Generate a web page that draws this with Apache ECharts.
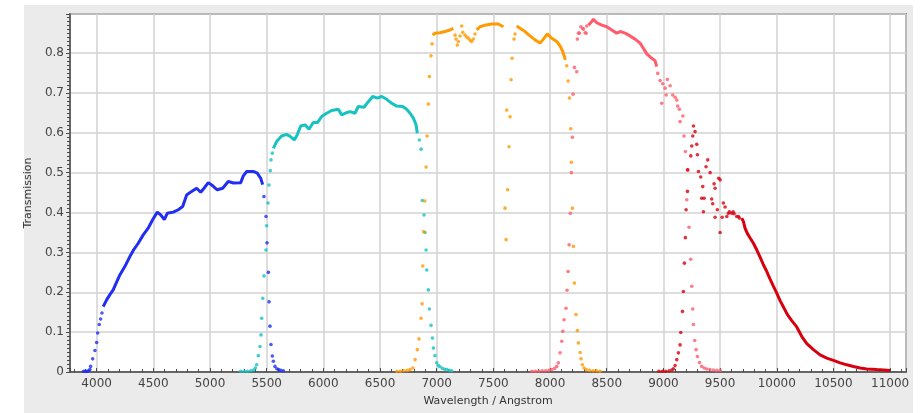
<!DOCTYPE html>
<html>
<head>
<meta charset="utf-8">
<script src="https://cdn.jsdelivr.net/npm/echarts@6/dist/echarts.min.js"></script>
<style>html,body{margin:0;padding:0;background:#fff;}#c{width:924px;height:413px;}</style>
</head>
<body>
<div id="c"></div>
<script>
// ---- data ----
const xAxisTitle = 'Wavelength / Angstrom';
const yAxisTitle = 'Transmission';

const blueCurve = [[4058,0.164],[4088,0.181],[4117,0.194],[4146,0.206],[4175,0.225],[4206,0.244],[4250,0.265],[4294,0.290],[4323,0.305],[4367,0.323],[4411,0.344],[4455,0.361],[4494,0.382],[4535,0.401],[4565,0.394],[4597,0.382],[4623,0.398],[4676,0.401],[4720,0.407],[4759,0.415],[4794,0.444],[4838,0.453],[4882,0.461],[4918,0.451],[4947,0.461],[4985,0.475],[5024,0.467],[5064,0.457],[5112,0.461],[5161,0.478],[5206,0.474],[5271,0.475],[5294,0.492],[5324,0.503],[5382,0.503],[5417,0.499],[5447,0.486],[5465,0.470]];
const blueDots = [[3885,0.002],[3900,0.002],[3915,0.002],[3930,0.003],[3940,0.006],[3947,0.014],[3965,0.033],[3985,0.054],[4000,0.074],[4009,0.098],[4023,0.119],[4035,0.133],[4047,0.148],[5476,0.440],[5494,0.390],[5503,0.324],[5515,0.250],[5521,0.176],[5529,0.115],[5538,0.069],[5550,0.040],[5559,0.027],[5573,0.014],[5590,0.008],[5605,0.006],[5625,0.004],[5647,0.003]];

const cyanCurve = [[5559,0.561],[5588,0.578],[5632,0.592],[5676,0.596],[5712,0.590],[5744,0.582],[5770,0.595],[5800,0.617],[5838,0.620],[5873,0.609],[5911,0.626],[5950,0.626],[5985,0.641],[6029,0.649],[6073,0.656],[6132,0.659],[6162,0.645],[6191,0.649],[6235,0.653],[6279,0.649],[6308,0.666],[6359,0.664],[6397,0.678],[6435,0.691],[6476,0.687],[6515,0.691],[6559,0.684],[6603,0.674],[6647,0.667],[6700,0.666],[6735,0.659],[6765,0.649],[6794,0.637],[6818,0.620],[6829,0.599]];
const cyanDots = [[5270,0.002],[5300,0.002],[5330,0.002],[5360,0.003],[5385,0.005],[5400,0.010],[5412,0.018],[5426,0.041],[5441,0.064],[5450,0.093],[5456,0.135],[5465,0.185],[5476,0.241],[5494,0.306],[5500,0.367],[5512,0.424],[5520,0.469],[5532,0.505],[5538,0.532],[5550,0.549],[6847,0.582],[6862,0.559],[6873,0.430],[6888,0.394],[6897,0.350],[6906,0.306],[6912,0.256],[6926,0.206],[6935,0.158],[6950,0.117],[6962,0.085],[6971,0.060],[6985,0.041],[7000,0.023],[7015,0.016],[7029,0.013],[7050,0.009],[7070,0.007],[7088,0.006],[7110,0.004],[7132,0.003]];

const orangeCurveA = [[6965,0.845],[6985,0.850],[7029,0.851],[7073,0.854],[7118,0.858],[7147,0.862]];
const orangeCurveB = [[7353,0.858],[7382,0.866],[7426,0.870],[7485,0.873],[7544,0.873],[7588,0.866]];
const orangeCurveC = [[7706,0.868],[7735,0.862],[7779,0.854],[7823,0.843],[7868,0.833],[7912,0.825],[7941,0.835],[7976,0.848],[8015,0.837],[8059,0.829],[8088,0.818],[8112,0.804],[8135,0.783]];
const orangeDots = [[6650,0.002],[6680,0.002],[6710,0.003],[6740,0.004],[6765,0.006],[6790,0.010],[6809,0.031],[6829,0.056],[6844,0.083],[6862,0.135],[6871,0.171],[6877,0.266],[6885,0.352],[6894,0.429],[6906,0.514],[6915,0.592],[6926,0.672],[6935,0.741],[6950,0.793],[6959,0.823],[7162,0.845],[7170,0.835],[7182,0.820],[7191,0.829],[7206,0.843],[7221,0.868],[7230,0.852],[7250,0.845],[7265,0.840],[7280,0.837],[7295,0.832],[7309,0.829],[7323,0.835],[7338,0.848],[7603,0.411],[7612,0.332],[7618,0.657],[7626,0.457],[7638,0.565],[7647,0.640],[7656,0.733],[7665,0.787],[7682,0.835],[7691,0.848],[8147,0.768],[8159,0.730],[8171,0.687],[8182,0.610],[8188,0.526],[8197,0.411],[8206,0.315],[8215,0.223],[8229,0.144],[8241,0.104],[8250,0.073],[8265,0.049],[8273,0.033],[8285,0.018],[8300,0.010],[8320,0.006],[8350,0.004],[8380,0.003],[8410,0.003],[8440,0.002]];

const pinkCurve = [[8338,0.870],[8368,0.879],[8382,0.885],[8412,0.876],[8456,0.870],[8500,0.866],[8544,0.858],[8588,0.850],[8618,0.854],[8662,0.850],[8706,0.843],[8750,0.835],[8794,0.825],[8823,0.812],[8853,0.798],[8888,0.789],[8926,0.781],[8941,0.766]];
const pinkDots = [[7840,0.002],[7870,0.002],[7900,0.002],[7930,0.003],[7960,0.003],[7990,0.004],[8015,0.006],[8040,0.009],[8059,0.014],[8073,0.023],[8088,0.048],[8103,0.077],[8112,0.102],[8124,0.131],[8141,0.160],[8150,0.205],[8159,0.252],[8168,0.319],[8179,0.398],[8188,0.500],[8197,0.589],[8203,0.697],[8215,0.764],[8235,0.753],[8241,0.835],[8250,0.850],[8259,0.850],[8271,0.866],[8288,0.862],[8294,0.860],[8309,0.851],[8318,0.850],[8324,0.868],[8950,0.749],[8971,0.731],[8985,0.674],[8994,0.723],[9015,0.712],[9024,0.695],[9035,0.734],[9059,0.718],[9082,0.695],[9103,0.689],[9118,0.682],[9126,0.667],[9141,0.659],[9147,0.628],[9171,0.642],[9182,0.592],[9194,0.553],[9212,0.507],[9206,0.432],[9226,0.363],[9241,0.283],[9250,0.215],[9259,0.158],[9265,0.119],[9276,0.079],[9288,0.056],[9300,0.039],[9318,0.024],[9338,0.014],[9360,0.010],[9382,0.0075],[9410,0.006],[9440,0.005],[9470,0.004],[9500,0.004]];

const redCurve = [[9691,0.386],[9706,0.377],[9720,0.361],[9741,0.347],[9765,0.336],[9794,0.323],[9824,0.306],[9853,0.288],[9882,0.269],[9912,0.252],[9941,0.233],[9971,0.215],[10000,0.198],[10029,0.179],[10059,0.163],[10094,0.144],[10132,0.129],[10176,0.113],[10221,0.089],[10265,0.071],[10323,0.056],[10382,0.043],[10441,0.035],[10500,0.029],[10559,0.023],[10618,0.018],[10676,0.014],[10735,0.010],[10794,0.0075],[10882,0.006],[11000,0.004]];
const redDots = [[8960,0.002],[8990,0.002],[9020,0.002],[9050,0.003],[9075,0.005],[9088,0.008],[9103,0.016],[9118,0.031],[9132,0.048],[9147,0.068],[9153,0.099],[9168,0.152],[9176,0.202],[9185,0.273],[9194,0.337],[9200,0.407],[9212,0.453],[9215,0.507],[9241,0.542],[9250,0.567],[9259,0.592],[9265,0.617],[9279,0.603],[9294,0.571],[9300,0.545],[9309,0.503],[9329,0.489],[9347,0.465],[9338,0.436],[9359,0.436],[9353,0.402],[9376,0.515],[9391,0.532],[9412,0.500],[9426,0.434],[9435,0.422],[9447,0.472],[9456,0.461],[9456,0.388],[9476,0.407],[9488,0.486],[9500,0.482],[9500,0.350],[9518,0.388],[9529,0.424],[9544,0.414],[9559,0.390],[9573,0.398],[9582,0.402],[9603,0.398],[9615,0.402],[9624,0.397],[9647,0.390],[9662,0.390],[9670,0.386]];

// ---- styling ----
const C = {blue:'#1f2ef2', cyan:'#16c2c2', orange:'#ff9a00', pink:'#ff5b6b', red:'#d8000e'};
const FONT = 'DejaVu Sans';

function curve(data, color){
  return {type:'line', data:data, showSymbol:false, symbol:'none', smooth:false,
    lineStyle:{color:color, width:3}, silent:true, animation:false, z:2};
}
function dots(data, color){
  return {type:'scatter', data:data, symbol:'circle', symbolSize:3.6,
    itemStyle:{color:color}, silent:true, animation:false, z:3};
}

const chart = echarts.init(document.getElementById('c'), null, {renderer:'canvas'});
chart.setOption({
  backgroundColor:'#ffffff',
  animation:false,
  graphic:[{type:'rect', z:-10, silent:true, shape:{x:24,y:5,width:889,height:408}, style:{fill:'#ebebeb'}}],
  grid:{left:70, top:14, right:18, bottom:41, show:true, backgroundColor:'#ffffff', borderColor:'#4a4a4a', borderWidth:1.5},
  xAxis:{type:'value', min:3765, max:11140, minInterval:500, maxInterval:500,
    name:xAxisTitle, nameLocation:'middle', nameGap:24,
    nameTextStyle:{fontFamily:FONT, fontSize:11, color:'#333'},
    axisLine:{show:true, onZero:false, lineStyle:{color:'#4a4a4a', width:1.5}},
    axisTick:{show:true, inside:true, length:4, lineStyle:{color:'#4a4a4a'}},
    minorTick:{show:true, splitNumber:5, length:3, lineStyle:{color:'#4a4a4a'}},
    axisLabel:{fontFamily:FONT, fontSize:12, color:'#444', margin:6, showMinLabel:false, showMaxLabel:false,
      formatter:function(v){ return String(v); }},
    splitLine:{show:true, lineStyle:{color:'#d2d2d2', width:1.5}}
  },
  yAxis:{type:'value', min:0, max:0.898, interval:0.1,
    name:yAxisTitle, nameLocation:'middle', nameGap:29, nameRotate:90,
    nameTextStyle:{fontFamily:FONT, fontSize:11, color:'#333'},
    axisLine:{show:true, lineStyle:{color:'#4a4a4a', width:1.5}},
    axisTick:{show:true, inside:false, length:4, lineStyle:{color:'#4a4a4a'}},
    minorTick:{show:true, splitNumber:10, length:3, lineStyle:{color:'#4a4a4a'}},
    axisLabel:{fontFamily:FONT, fontSize:12, color:'#444', margin:6, showMaxLabel:false,
      formatter:function(v){ return String(Math.round(v*10)/10); }},
    splitLine:{show:true, lineStyle:{color:'#d2d2d2', width:1.5}}
  },
  series:[
    curve(blueCurve, C.blue), dots(blueDots, C.blue),
    curve(cyanCurve, C.cyan), dots(cyanDots, C.cyan),
    curve(orangeCurveA, C.orange), curve(orangeCurveB, C.orange), curve(orangeCurveC, C.orange), dots(orangeDots, C.orange),
    curve(pinkCurve, C.pink), dots(pinkDots, C.pink),
    curve(redCurve, C.red), dots(redDots, C.red)
  ]
});
</script>
</body>
</html>
